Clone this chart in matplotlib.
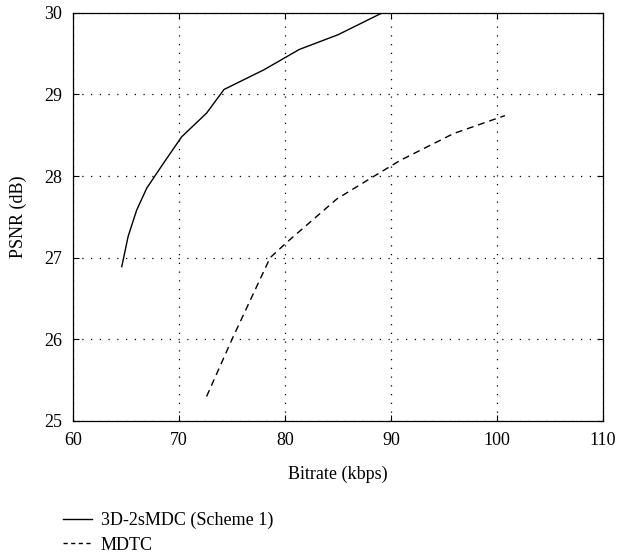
import matplotlib.pyplot as plt
from matplotlib.lines import Line2D

plt.rcParams['font.family'] = ['Liberation Serif', 'DejaVu Serif']

# 3D-2sMDC (Scheme 1)
scheme1_rate = [64.6, 65.2, 66.0, 66.95, 68.5, 70.25, 72.6, 74.25, 78.0, 81.35, 85.0, 89.2]
scheme1_psnr = [26.89, 27.26, 27.58, 27.85, 28.15, 28.48, 28.77, 29.06, 29.30, 29.55, 29.73, 30.0]

# MDTC
mdtc_rate = [72.6, 75.0, 78.6, 80.1, 84.9, 88.3, 90.85, 95.9, 100.75]
mdtc_psnr = [25.3, 26.0, 27.0, 27.18, 27.72, 27.99, 28.19, 28.52, 28.74]

fs = 13

fig = plt.figure(figsize=(6.17, 5.57), dpi=100)
ax = fig.add_axes([73 / 617, 1 - 421 / 557, 530 / 617, 408.3 / 557])

ax.plot(scheme1_rate, scheme1_psnr, color='black', linewidth=1.0, linestyle='-')
ax.plot(mdtc_rate, mdtc_psnr, color='black', linewidth=1.0, linestyle=(0, (5, 3.5)))

ax.set_xlim(60, 110)
ax.set_ylim(25, 30)
ax.set_xticks([60, 70, 80, 90, 100, 110])
ax.set_yticks([25, 26, 27, 28, 29, 30])
ax.grid(True, color='black', linestyle=(0, (1, 6)), linewidth=0.9)
ax.tick_params(direction='in', top=True, right=True, length=4, labelsize=fs, pad=8)
for s in ax.spines.values():
    s.set_linewidth(0.9)

ax.set_xlabel('Bitrate (kbps)', fontsize=fs, labelpad=12)
ax.set_ylabel('PSNR (dB)', fontsize=fs, labelpad=12)

handles = [Line2D([], [], color='black', linewidth=1.0, linestyle='-'),
           Line2D([], [], color='black', linewidth=1.0, linestyle=(0, (3, 2.5)))]
fig.legend(handles, ['3D-2sMDC (Scheme 1)', 'MDTC'], loc='upper left',
           bbox_to_anchor=(63 / 617, 1 - 512 / 557), frameon=False,
           borderpad=0, borderaxespad=0,
           fontsize=fs, handlelength=1.6, handletextpad=0.5, labelspacing=0.4)

fig.savefig('out.png', dpi=100)
